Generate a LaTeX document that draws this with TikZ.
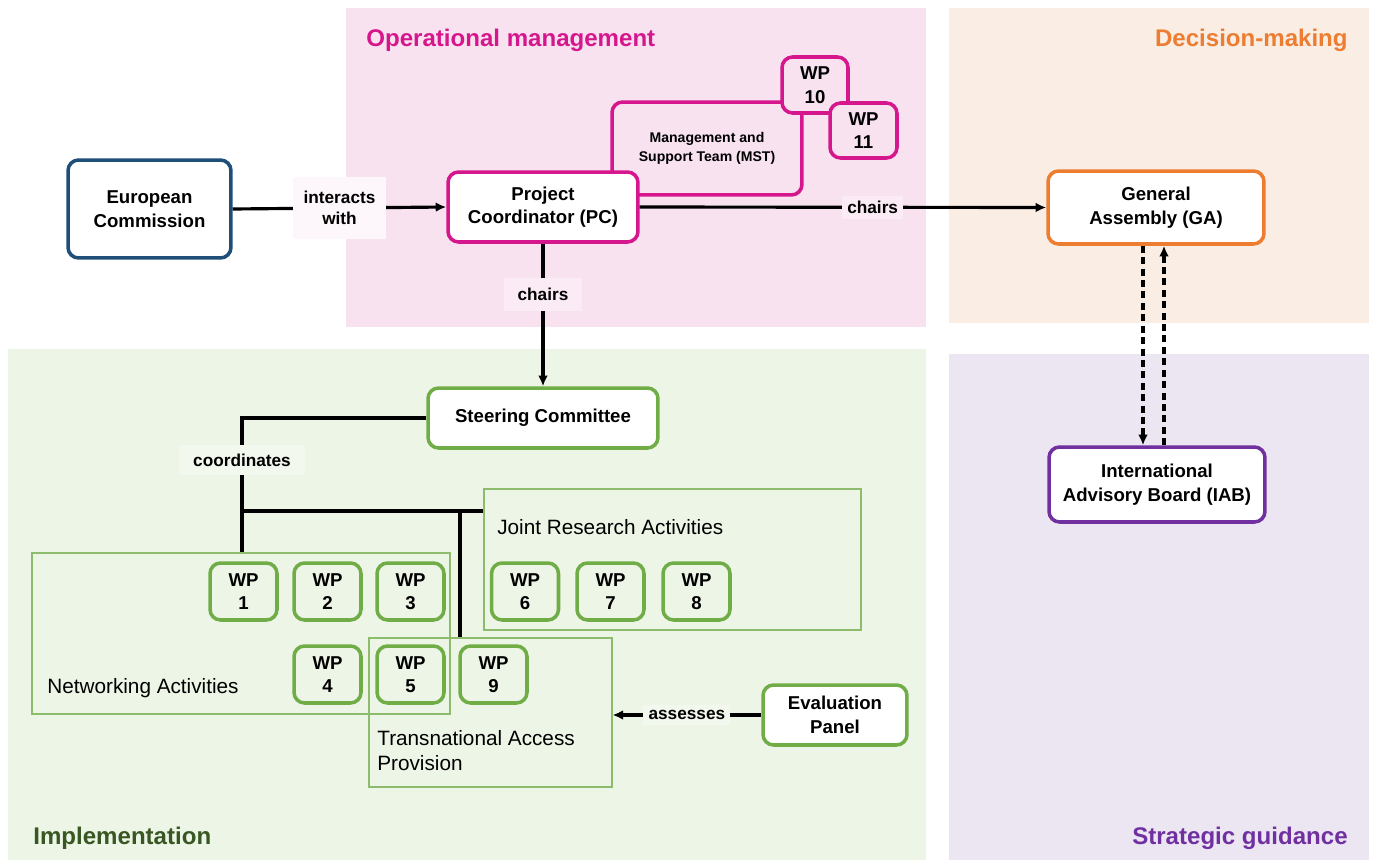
\documentclass[tikz,border=0pt]{standalone}
\usepackage{fontspec}
\setmainfont{Liberation Sans}
\usetikzlibrary{arrows.meta,fit,calc}
\definecolor{pinkbg}{RGB}{248,226,240}
\definecolor{peachbg}{RGB}{250,238,228}
\definecolor{greenbg}{RGB}{237,245,230}
\definecolor{lavbg}{RGB}{236,230,242}
\definecolor{mag}{RGB}{214,22,140}
\definecolor{orng}{RGB}{237,125,49}
\definecolor{grn}{RGB}{112,173,71}
\definecolor{purp}{RGB}{112,48,160}
\definecolor{dblue}{RGB}{31,78,121}
\definecolor{dgreen}{RGB}{56,87,35}
\tikzset{
  box/.style={draw, rounded corners=6pt, line width=2pt, align=center, inner sep=0pt,
    font=\bfseries\fontsize{10.6}{13.4}\selectfont, fill=white},
  wp/.style={box, minimum width=1.34cm, minimum height=1.14cm, draw=grn, fill=greenbg},
  grp/.style={draw=grn!80, line width=0.6pt, inner sep=0pt},
  gtxt/.style={font=\fontsize{11.8}{14.2}\selectfont, align=left, inner sep=0pt},
  ttl/.style={font=\bfseries\fontsize{13.7}{16}\selectfont, inner sep=0pt},
  conn/.style={line width=1.8pt},
  arr/.style={conn, -{Latex[length=6pt,width=5.5pt]}},
  darr/.style={arr, dash pattern=on 4pt off 2.5pt},
  lbl/.style={fill=white, align=center, inner sep=3pt,
    font=\bfseries\fontsize{9.8}{12}\selectfont},
  lblp/.style={lbl, fill=pinkbg!70!white},
  lblg/.style={lbl, fill=greenbg!70!white}
}
\begin{document}
\begin{tikzpicture}[x=0.02cm,y=-0.02cm]
\useasboundingbox (0,0) rectangle (1374,862);
% backgrounds
\fill[pinkbg] (346,8) rectangle (926,327);
\fill[peachbg] (949,8) rectangle (1369,323);
\fill[greenbg] (8,349) rectangle (926,860);
\fill[lavbg] (949,354) rectangle (1369,860);
\node[ttl, text=mag, anchor=west] (t1) at (366,40) {Operational management};
\node[ttl, text=orng, anchor=east] (t2) at (1348,40) {Decision-making};
\node[ttl, text=dgreen, anchor=west] (t3) at (33,838) {Implementation};
\node[ttl, text=purp, anchor=east] (t4) at (1348,838) {Strategic guidance};
% groups
\node[grp, fit={(32,553)(450,714)}] (na) {};
\node[grp, fit={(484,489)(861,630)}] (jr) {};
\node[grp, fit={(369,638)(612,787)}] (ta) {};
\node[gtxt, anchor=west] (natxt) at (47,688) {Networking Activities};
\node[gtxt, anchor=west] (jrtxt) at (497,527) {Joint Research Activities};
\node[gtxt, anchor=west] (tatxt) at (377,751) {Transnational Access\\Provision};
% nodes
\node[box, draw=dblue, minimum width=3.26cm, minimum height=1.96cm] (ec) at (149.5,209) {European\\Commission};
\node[box, draw=mag, fill=pinkbg, minimum width=3.8cm, minimum height=1.86cm,
  font=\bfseries\fontsize{8}{10.5}\selectfont] (mst) at (707,148.5) {Management and\\Support Team (MST)};
\node[box, draw=mag, fill=pinkbg, minimum width=1.32cm, minimum height=1.12cm] (wp10) at (815,85) {WP\\10};
\node[box, draw=mag, fill=pinkbg, minimum width=1.34cm, minimum height=1.1cm] (wp11) at (863.5,130.5) {WP\\11};
\node[box, draw=mag, minimum width=3.8cm, minimum height=1.4cm] (pc) at (543,207) {Project\\Coordinator (PC)};
\node[box, draw=orng, minimum width=4.32cm, minimum height=1.46cm] (ga) at (1156,207.5) {General\\Assembly (GA)};
\node[box, draw=purp, minimum width=4.32cm, minimum height=1.5cm] (iab) at (1157,484.5) {International\\Advisory Board (IAB)};
\node[box, draw=grn, minimum width=4.6cm, minimum height=1.2cm] (sc) at (543,418) {Steering Committee};
\node[box, draw=grn, minimum width=2.88cm, minimum height=1.2cm] (ev) at (835,715) {Evaluation\\Panel};
\node[wp] (wp1) at (243.5,591.5) {WP\\1};
\node[wp] (wp2) at (327.5,591.5) {WP\\2};
\node[wp] (wp3) at (410.5,591.5) {WP\\3};
\node[wp] (wp4) at (327.5,674.5) {WP\\4};
\node[wp] (wp5) at (410.5,674.5) {WP\\5};
\node[wp] (wp9) at (493.5,674.5) {WP\\9};
\node[wp] (wp6) at (525,591.5) {WP\\6};
\node[wp] (wp7) at (610.5,591.5) {WP\\7};
\node[wp] (wp8) at (696.5,591.5) {WP\\8};
% connectors
\draw[arr] (ec.east) -- node[lbl, fill=white!70!pinkbg, inner ysep=8pt, inner xsep=6pt]{interacts\\with} (pc.west);
\draw[arr] (pc.east) -- node[lblp, pos=0.573]{chairs} (ga.west);
\draw[arr] (pc.south) -- node[lblp, pos=0.356, inner ysep=6pt, inner xsep=8pt]{chairs} (sc.north);
\path (wp1.north |- na.north) coordinate (nacon);
\draw[conn] (sc.west) -| node[lblg, pos=0.656, inner ysep=5pt, inner xsep=8pt]{coordinates} ([xshift=-0.03cm]nacon);
\path ([xshift=-0.03cm]nacon |- 0,511) coordinate (j1);
\draw[conn] (j1) -- (j1 -| jr.west);
\path (460,511) coordinate (j2);
\draw[conn] (j2) -- (j2 |- ta.north);
\draw[arr] (ev.west) -- node[lblg]{assesses} (ev.west -| ta.east);
\draw[darr] ([xshift=-0.26cm]ga.south) -- ([xshift=-0.26cm]ga.south |- iab.north);
\draw[darr] ([xshift=0.16cm]ga.south |- iab.north) -- ([xshift=0.16cm]ga.south);
\end{tikzpicture}
\end{document}
